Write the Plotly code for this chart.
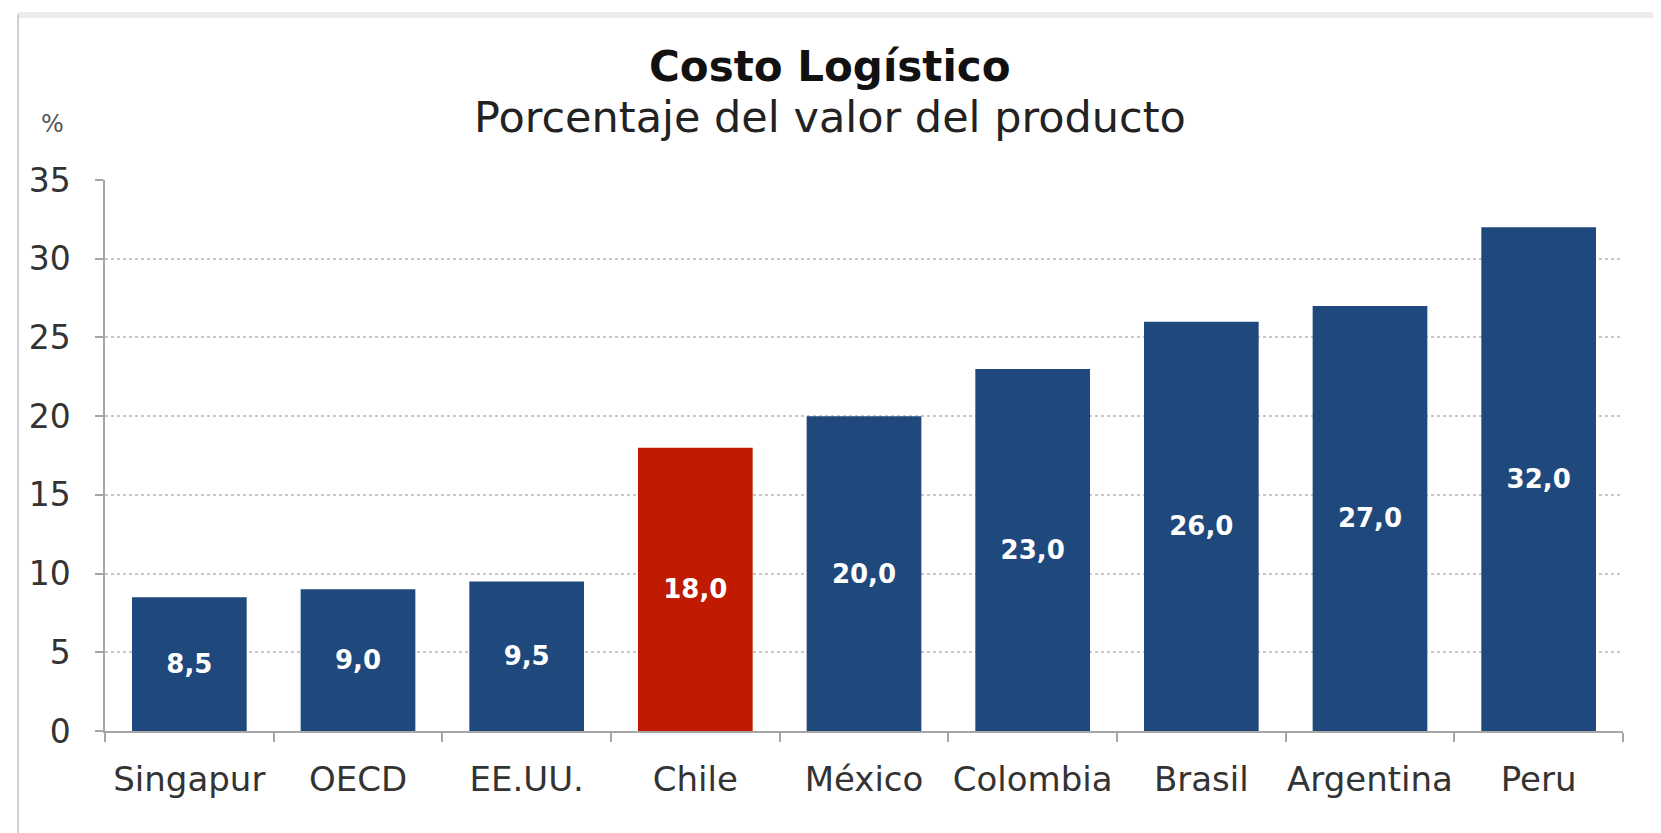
import plotly.graph_objects as go

categories = ["Singapur", "OECD", "EE.UU.", "Chile", "México", "Colombia", "Brasil", "Argentina", "Peru"]
values = [8.5, 9.0, 9.5, 18.0, 20.0, 23.0, 26.0, 27.0, 32.0]
highlight = "Chile"
y_ticks = [0, 5, 10, 15, 20, 25, 30, 35]

BLUE = "#1F497D"
RED = "#C01A00"
colors = [RED if c == highlight else BLUE for c in categories]

W, H = 1661, 833
L, R, T, B = 97, 46, 172, 110
pw, ph = W - L - R, H - T - B

def px(x):
    return (x - L) / pw

def py(y):
    return (H - B - y) / ph

fig = go.Figure(go.Bar(
    x=categories, y=values,
    marker=dict(color=colors, line=dict(width=0)),
    width=0.68,
    texttemplate="%{y:.1f}",
    textposition="inside",
    insidetextanchor="middle",
    textfont=dict(family="DejaVu Sans", size=26, color="white", weight="bold"),
    textangle=0,
))

fig.update_layout(
    width=W, height=H,
    margin=dict(l=L, r=R, t=T, b=B),
    paper_bgcolor="white", plot_bgcolor="white",
    separators=",.",
    showlegend=False,
    font=dict(family="DejaVu Sans", color="#333333"),
    xaxis=dict(
        showline=True, linecolor="#a6a6a6", linewidth=1.5,
        ticks="outside", ticklen=9, tickcolor="#a6a6a6", tickwidth=1.5,
        tickson="boundaries", showgrid=False,
        tickfont=dict(size=34, color="#333333"),
        tickangle=0, automargin=False,
        ticklabelstandoff=17,
    ),
    yaxis=dict(
        range=[0, 35], tickvals=y_ticks,
        showline=True, linecolor="#a6a6a6", linewidth=1.5,
        ticks="outside", ticklen=8, tickcolor="#a6a6a6", tickwidth=1.5,
        showgrid=True, gridcolor="#c8c8c8", gridwidth=1.5, griddash="dot",
        zeroline=False, automargin=False,
        tickfont=dict(size=33, color="#333333"),
        ticklabelstandoff=18,
    ),
    annotations=[
        dict(text="<b>Costo Logístico</b>", x=px(822), y=py(58), xref="paper", yref="paper",
             showarrow=False, xanchor="center", yanchor="middle",
             font=dict(size=42, color="#111111")),
        dict(text="Porcentaje del valor del producto", x=px(822), y=py(109), xref="paper", yref="paper",
             showarrow=False, xanchor="center", yanchor="middle",
             font=dict(size=43, color="#222222")),
        dict(text="%", x=px(44), y=py(116), xref="paper", yref="paper",
             showarrow=False, xanchor="center", yanchor="middle",
             font=dict(size=24, color="#555555")),
    ],
    shapes=[
        dict(type="line", xref="paper", yref="paper", x0=px(10), x1=px(10), y0=py(6), y1=py(H),
             line=dict(color="#d0d0d0", width=2)),
        dict(type="rect", xref="paper", yref="paper", x0=px(10), x1=px(W), y0=py(4), y1=py(10),
             fillcolor="#ececec", line=dict(width=0), layer="below"),
    ],
)

fig.write_html("out.html")
